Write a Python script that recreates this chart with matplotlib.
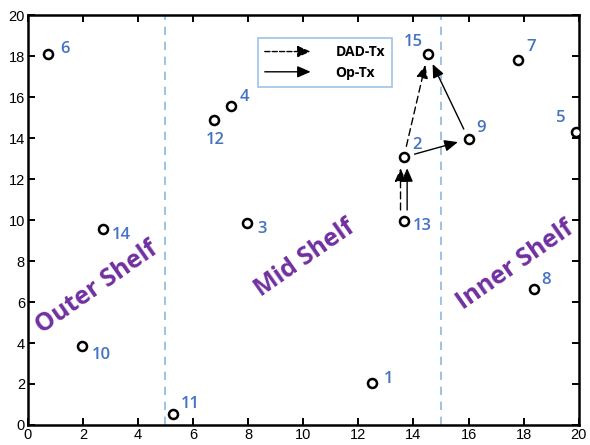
import matplotlib.pyplot as plt
from matplotlib.patches import FancyArrowPatch
from matplotlib.lines import Line2D
from matplotlib.legend_handler import HandlerBase

# station positions
ids = [1, 2, 3, 4, 5, 6, 7, 8, 9, 10, 11, 12, 13, 14, 15]
xs = [12.5, 13.65, 7.95, 7.37, 19.9, 0.73, 17.8, 18.37, 16.0, 1.96, 5.26, 6.75, 13.65, 2.72, 14.52]
ys = [2.05, 13.07, 9.85, 15.56, 14.3, 18.1, 17.8, 6.63, 13.95, 3.85, 0.54, 14.9, 9.95, 9.56, 18.1]
# label offsets in pixels
offs = {1: (16, 4), 2: (13, 12), 3: (15, -6), 4: (14, 9), 5: (-15, 14), 6: (17, 5),
        7: (13, 13), 8: (12, 9), 9: (12, 11), 10: (20, -9), 11: (18, 10), 12: (2, -20),
        13: (18, -5), 14: (19, -6), 15: (-15, 12)}

# transitions (from, to)
dad_tx = [(13, 2), (2, 15)]
op_tx = [(13, 2), (2, 9), (9, 15)]

shelf_names = ['Outer Shelf', 'Mid Shelf', 'Inner Shelf']
shelf_x = [2.5, 10.05, 17.7]
shelf_y = [6.7, 8.15, 7.8]
bounds = [5, 15]

blue = '#4472C4'
purple = '#7030A0'

fig = plt.figure(figsize=(5.9, 4.45), dpi=100)
ax = fig.add_axes([0.047, 0.045, 0.934, 0.921])

for b in bounds:
    ax.axvline(b, color='#8FB8DE', ls=(0, (5, 4)), lw=1.2)

ax.plot(xs, ys, 'o', mfc='white', mec='black', mew=1.8, ms=6.5, ls='none', zorder=3)
pos = dict(zip(ids, zip(xs, ys)))
for i in ids:
    ax.annotate(str(i), pos[i], xytext=offs[i], textcoords='offset pixels',
                ha='center', va='center', color=blue, fontsize=12,
                fontfamily='Open Sans', fontweight='semibold')

def arrow(a, b, ls, dx=0.0):
    (x0, y0), (x1, y1) = pos[a], pos[b]
    p = FancyArrowPatch((x0 + dx, y0), (x1 + dx, y1), arrowstyle='-|>,head_length=8,head_width=3.5',
                        linestyle=ls, lw=1.0, color='black', shrinkA=8, shrinkB=8,
                        mutation_scale=1, zorder=2)
    ax.add_patch(p)

for a, b in dad_tx:
    arrow(a, b, (0, (5, 3)), -0.12 if (a, b) in op_tx else 0.0)
for a, b in op_tx:
    arrow(a, b, '-', 0.12 if (a, b) in dad_tx else 0.0)

for name, x, y in zip(shelf_names, shelf_x, shelf_y):
    ax.text(x, y, name, rotation=35, ha='center', va='center', color=purple,
            fontsize=18, fontfamily='Open Sans', fontweight='bold')


class ArrowHandler(HandlerBase):
    def create_artists(self, legend, orig, xd, yd, w, h, fs, trans):
        p = FancyArrowPatch((0, h / 2), (w, h / 2), arrowstyle='-|>,head_length=8,head_width=3.5',
                            linestyle=orig.get_linestyle(), lw=1.0, color='black',
                            mutation_scale=1, shrinkA=0, shrinkB=0)
        p.set_transform(trans)
        return [p]


h1 = Line2D([], [], ls=(0, (5, 4)), color='black')
h2 = Line2D([], [], ls='-', color='black')
leg = ax.legend([h1, h2], ['DAD-Tx', 'Op-Tx'], handler_map={h1: ArrowHandler(), h2: ArrowHandler()},
                loc='upper left', bbox_to_anchor=(0.405, 0.96), fancybox=False, framealpha=1,
                edgecolor='#9DC3E6', handlelength=3.3, handletextpad=1.8, borderpad=0.5,
                labelspacing=0.45, prop={'family': 'Open Sans', 'weight': 'bold', 'size': 10})
leg.get_frame().set_linewidth(1.2)

ax.set_xlim(0, 20)
ax.set_ylim(0, 20)
ax.set_xticks(range(0, 21, 2))
ax.set_yticks(range(0, 21, 2))
ax.tick_params(direction='in', top=True, right=True, length=5, width=1.4, labelsize=10.5, pad=2)
for lab in ax.get_xticklabels() + ax.get_yticklabels():
    lab.set_fontfamily('Liberation Sans')
for s in ax.spines.values():
    s.set_linewidth(1.8)

fig.savefig('out.png', dpi=100, facecolor='white')
